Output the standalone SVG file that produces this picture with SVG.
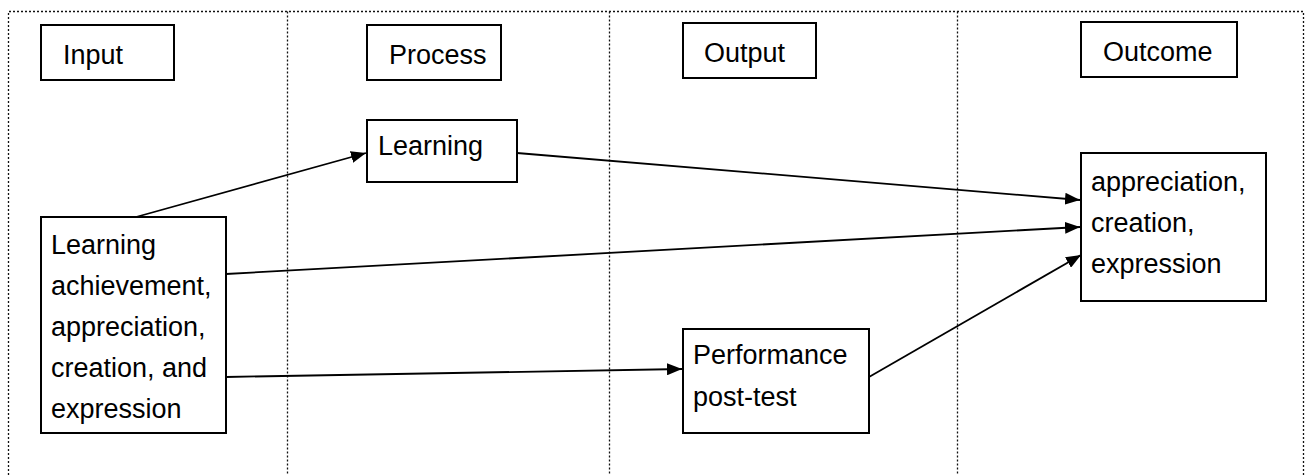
<svg xmlns="http://www.w3.org/2000/svg" width="1305" height="475" viewBox="0 0 1305 475">
<style>
.box{fill:#fff;stroke:#000;stroke-width:2}
.grid{fill:none;stroke:#111;stroke-width:1.3;stroke-dasharray:2 2}
.t{font-family:"Liberation Sans",Arial,sans-serif;font-size:27px;fill:#000}
.c{fill:none;stroke:#000;stroke-width:1.8}
</style>
<defs>
<marker id="ah" viewBox="0 0 10 10" refX="10" refY="5" markerWidth="15" markerHeight="12" markerUnits="userSpaceOnUse" orient="auto" preserveAspectRatio="none">
<path d="M0,0 L10,5 L0,10 Z" fill="#000"/>
</marker>
</defs>
<rect width="1305" height="475" fill="#fff"/>
<g id="grid">
<path class="grid" d="M8.5,475 V11.5 H1303.5 V475 M287.5,11.5 V475 M609.5,11.5 V475 M957.5,11.5 V475"/>
</g>
<g id="connectors">
<line class="c" x1="136" y1="217" x2="366" y2="153" marker-end="url(#ah)"/>
<line class="c" x1="517" y1="153" x2="1080" y2="200" marker-end="url(#ah)"/>
<line class="c" x1="226" y1="274" x2="1080" y2="227" marker-end="url(#ah)"/>
<line class="c" x1="226" y1="377" x2="682" y2="369" marker-end="url(#ah)"/>
<line class="c" x1="869" y1="377" x2="1081" y2="255" marker-end="url(#ah)"/>
</g>
<g id="input-header">
<rect class="box" x="41" y="25" width="133" height="55"/>
<text class="t" x="63" y="64">Input</text>
</g>
<g id="process-header">
<rect class="box" x="367" y="25" width="134" height="55"/>
<text class="t" x="389" y="64">Process</text>
</g>
<g id="output-header">
<rect class="box" x="683" y="23" width="133" height="55"/>
<text class="t" x="704" y="62">Output</text>
</g>
<g id="outcome-header">
<rect class="box" x="1081" y="22" width="156" height="55"/>
<text class="t" x="1103" y="61">Outcome</text>
</g>
<g id="learning">
<rect class="box" x="367" y="120" width="150" height="62"/>
<text class="t" x="378" y="155">Learning</text>
</g>
<g id="input-node">
<rect class="box" x="41" y="217" width="185" height="216"/>
<text class="t" x="51" y="254">Learning</text>
<text class="t" x="51" y="295">achievement,</text>
<text class="t" x="51" y="336">appreciation,</text>
<text class="t" x="51" y="377">creation, and</text>
<text class="t" x="51" y="418">expression</text>
</g>
<g id="performance">
<rect class="box" x="683" y="329" width="186" height="104"/>
<text class="t" x="693" y="364">Performance</text>
<text class="t" x="693" y="406">post-test</text>
</g>
<g id="outcome-node">
<rect class="box" x="1081" y="153" width="185" height="148"/>
<text class="t" x="1091" y="191">appreciation,</text>
<text class="t" x="1091" y="232">creation,</text>
<text class="t" x="1091" y="273">expression</text>
</g>
</svg>
